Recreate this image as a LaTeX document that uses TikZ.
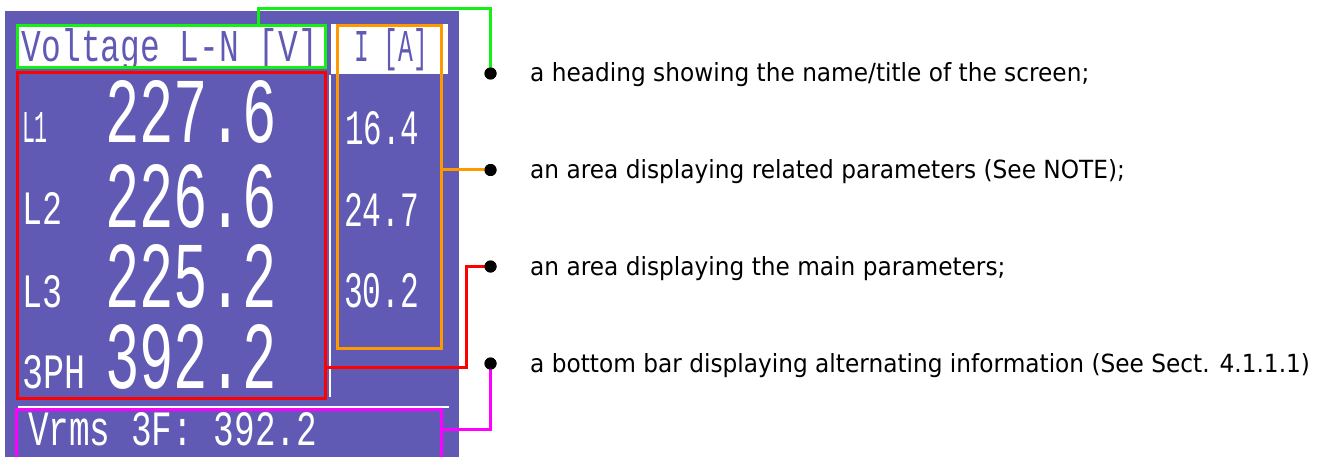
\documentclass[tikz,border=0pt]{standalone}
\usepackage{fontspec}
\usepackage{graphicx}
\setmainfont{DejaVu Sans}[FakeStretch=0.93]
\newfontfamily\lcd{Liberation Mono}
\definecolor{lcdbg}{RGB}{96,90,180}
\definecolor{hgreen}{RGB}{20,240,20}
\definecolor{horange}{RGB}{255,153,0}
\definecolor{hred}{RGB}{255,0,0}
\definecolor{hmag}{RGB}{255,0,255}
\newcommand\lcdtxt[3]{\resizebox{#1pt}{#2pt}{\lcd #3}}
\tikzset{
  lcdt/.style={inner sep=0pt, outer sep=0pt, anchor=base west, text=white},
  hbox/.style={draw=#1, line width=3pt, inner sep=0pt, outer sep=0pt, anchor=north west},
  conn/.style={draw=#1, line width=3pt},
  blob/.style={circle, fill=black, inner sep=0pt, minimum size=12pt},
  lbl/.style={inner sep=0pt, anchor=base west, font=\fontsize{25}{30}\selectfont},
}
\begin{document}
\begin{tikzpicture}[x=1pt,y=-1pt]
\useasboundingbox (0,0) rectangle (1327,457);
\clip (0,0) rectangle (1327,457);
% screen
\fill[lcdbg] (5,11) rectangle (459,457);
\fill[white] (18,27) rectangle (324,66);
\fill[white] (331,24) rectangle (448,74);
\fill[white] (329,75) rectangle (331,397);
\fill[white] (18,406) rectangle (449,408);
% LCD texts
\node[lcdt, text=lcdbg] (t1) at (22,62) {\lcdtxt{296}{33}{Voltage L-N [V]}};
\node[lcdt, text=lcdbg] (t2) at (354,62) {\lcdtxt{74}{33}{I [A]}};
\node[lcdt] (v1) at (105,143) {\lcdtxt{172}{62}{227.6}};
\node[lcdt] (v2) at (105,227) {\lcdtxt{172}{63}{226.6}};
\node[lcdt] (v3) at (105,307) {\lcdtxt{172}{63}{225.2}};
\node[lcdt] (v4) at (105,388) {\lcdtxt{172}{64}{392.2}};
\node[lcdt] (l1) at (22,143) {\lcdtxt{26}{30}{L1}};
\node[lcdt] (l2) at (22,225) {\lcdtxt{40}{32}{L2}};
\node[lcdt] (l3) at (22,307) {\lcdtxt{40}{32}{L3}};
\node[lcdt] (l4) at (22,388) {\lcdtxt{63}{33}{3PH}};
\node[lcdt] (a1) at (345,145) {\lcdtxt{74}{33}{16.4}};
\node[lcdt] (a2) at (344,226) {\lcdtxt{75}{33}{24.7}};
\node[lcdt] (a3) at (344,307) {\lcdtxt{75}{34}{30.2}};
\node[lcdt] (b1) at (28,445) {\lcdtxt{289}{33}{Vrms 3F: 392.2}};
% highlight boxes
\node[hbox=hgreen, minimum width=308pt, minimum height=42pt] (head) at (17.5,25.5) {};
\node[hbox=hred, minimum width=308pt, minimum height=326pt] (main) at (17.5,72.5) {};
\node[hbox=horange, minimum width=104pt, minimum height=323pt] (rel) at (337,25.5) {};
\node[hbox=hmag, minimum width=425pt, minimum height=80pt] (bar) at (16.5,409) {};
% dots
\node[blob] (d1) at (490.5,73.5) {};
\node[blob] (d2) at (490.5,170) {};
\node[blob] (d3) at (490.5,266.5) {};
\node[blob] (d4) at (490.5,363.5) {};
\coordinate (g1) at (258.5,8.5);
\coordinate (r1) at (466,367);
\coordinate (m1) at (490.5,429);
% connectors
\draw[conn=hgreen] (head.north -| g1) -- (g1) -| (d1.center);
\draw[conn=horange] (rel.east |- d2) -- (d2.center);
\draw[conn=hred] (main.east |- r1) -- (r1) |- (d3.center);
\draw[conn=hmag] (bar.east |- m1) -| (d4.center);
\node[blob] at (d1) {};
\node[blob] at (d2) {};
\node[blob] at (d3) {};
\node[blob] at (d4) {};
% labels
\node[lbl] (x1) at (530,81.5) {a heading showing the name/title of the screen;};
\node[lbl] (x2) at (530,178.5) {an area displaying related parameters (See NOTE);};
\node[lbl] (x3) at (530,275) {an area displaying the main parameters;};
\node[lbl] (x4) at (530,372) {a bottom bar displaying alternating information (See Sect. 4.1.1.1)};
\end{tikzpicture}
\end{document}
